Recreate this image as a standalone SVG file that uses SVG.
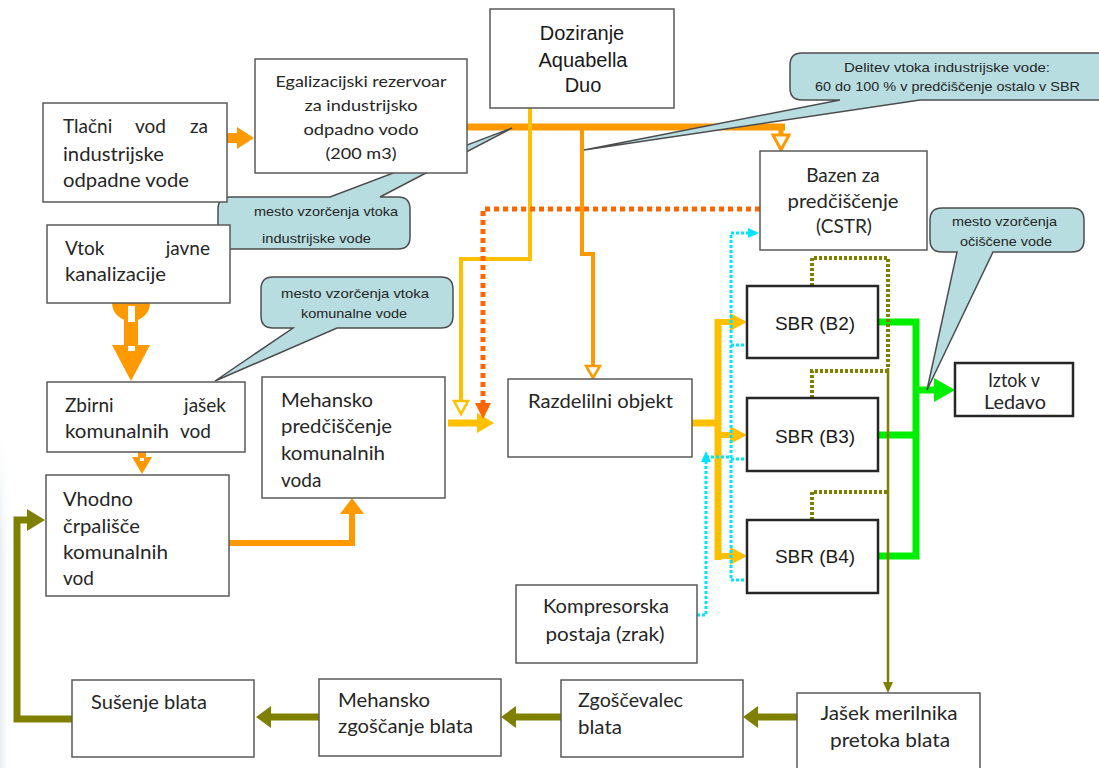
<svg xmlns="http://www.w3.org/2000/svg" width="1099" height="768" viewBox="0 0 1099 768">
<defs>
<linearGradient id="edge" x1="0" y1="0" x2="1" y2="0"><stop offset="0" stop-color="#e6ecf2"/><stop offset="1" stop-color="#ffffff" stop-opacity="0"/></linearGradient>
<linearGradient id="fade" x1="0" y1="0" x2="0" y2="1"><stop offset="0" stop-color="#fff"/><stop offset="0.35" stop-color="#fff" stop-opacity="0"/></linearGradient>
<style>
.box{fill:#fff;stroke:#595959;stroke-width:1.5}
.sbr{fill:#fff;stroke:#262626;stroke-width:2.5}
.t{font-family:Lato,"Liberation Sans",sans-serif;font-size:19px;fill:#262626}
.a{font-family:"Liberation Sans",Arial,sans-serif;font-size:19px;fill:#1a1a1a}
.c{font-family:"Liberation Sans Narrow","Liberation Sans",sans-serif;font-size:13px;fill:#262626}
.call{fill:#b7dde1;stroke:#4d4d4d;stroke-width:1.5}
.mid{text-anchor:middle}
</style>
</defs>
<rect width="1099" height="768" fill="#fff"/>
<rect x="0" y="440" width="12" height="328" fill="url(#edge)"/>
<rect x="0" y="440" width="12" height="328" fill="url(#fade)"/>

<g id="connectors">
<!-- industrial water main -->
<path d="M467,127 H785" stroke="#ff9900" stroke-width="7" fill="none"/>
<path d="M781,127 V136" stroke="#ff9900" stroke-width="5"/>
<path d="M773,135 H789 L781,150 Z" fill="#fff" stroke="#ff9900" stroke-width="3"/>
<path d="M582,127 V254 H593 V367" stroke="#ff9900" stroke-width="4" fill="none"/>
<path d="M586,366 H600 L593,378 Z" fill="#fff" stroke="#ff9900" stroke-width="2.5"/>
<!-- dosing -->
<path d="M530,108 V259 H461 V402" stroke="#ffc000" stroke-width="4" fill="none"/>
<path d="M454,401 H468 L461,414 Z" fill="#fff" stroke="#ffc000" stroke-width="2.5"/>
<path d="M448,423 H479" stroke="#ffc000" stroke-width="7"/>
<path d="M477,413 L494,423 L477,433 Z" fill="#ffc000"/>
<!-- CSTR return -->
<path d="M760,209 H483 V404" stroke="#ff6600" stroke-width="5" stroke-dasharray="5 4" fill="none"/>
<path d="M475,403 H491 L483,419 Z" fill="#ff6600"/>
<!-- distribution to SBR -->
<path d="M692,423 H718 M718,319 V560" stroke="#ffc000" stroke-width="7" fill="none"/>
<path d="M715,322 H732 M715,435 H732 M715,556 H732" stroke="#ffc000" stroke-width="6"/>
<path d="M730,313 L747,322 L730,331 Z M730,426 L747,435 L730,444 Z M730,547 L747,556 L730,565 Z" fill="#ffc000"/>
<!-- effluent -->
<path d="M878,322 H916 V556 H878 M878,435 H916 M916,390 H936" stroke="#00ee00" stroke-width="7" fill="none"/>
<path d="M934,378 L955,390 L934,402 Z" fill="#00ee00"/>
<!-- air -->
<path d="M749,233 H731 V580 H749 M731,345 H749 M731,459 H749 M697,615 H706 V462 M706,457 H731" stroke="#00e5ff" stroke-width="3" stroke-dasharray="3 2" fill="none"/>
<path d="M748,228 L759,233 L748,238 Z M748,340 L759,345 L748,350 Z M748,454 L759,459 L748,464 Z M748,575 L759,580 L748,585 Z M701,462 L706,451 L711,462 Z" fill="#00e5ff"/>
<!-- sludge -->
<path d="M812,286 V258 H888 V368 M812,398 V371 H888 M812,520 V492 H888" stroke="#808000" stroke-width="4" stroke-dasharray="3 2" fill="none"/>
<path d="M888,368 V684" stroke="#808000" stroke-width="2.5"/>
<path d="M883,682 H893 L888,693 Z" fill="#808000"/>
<path d="M797,717 H756 M561,717 H514 M319,717 H269 M72,719 H17 V520 H30" stroke="#808000" stroke-width="7" fill="none"/>
<path d="M758,706 L743,717 L758,728 Z M516,706 L501,717 L516,728 Z M271,706 L256,717 L271,728 Z M27,509 L45,520 L27,531 Z" fill="#808000"/>
<!-- municipal water -->
<path d="M229,543 H352 V513" stroke="#ff9900" stroke-width="6" fill="none"/>
<path d="M340,514 H364 L352,498 Z" fill="#ff9900"/>
<path d="M112,303 A19,18 0 0 0 150,303 Z" fill="#ff9900"/>
<rect x="124" y="310" width="14" height="37" fill="#ff9900"/>
<path d="M112,345 H150 L131,381 Z" fill="#ff9900"/>
<rect x="128" y="306" width="7" height="16" fill="#fff"/>
<rect x="128" y="346" width="7" height="5" fill="#fff"/>
<rect x="138" y="452" width="8" height="6" fill="#ff9900"/>
<path d="M132,457 H152 L142,474 Z" fill="#ff9900"/>
<rect x="140" y="458" width="4" height="3" fill="#fff"/>
<rect x="227" y="133" width="12" height="10" fill="#ff9900"/>
<path d="M237,127 L254,138 L237,149 Z" fill="#ff9900"/>
</g>

<g id="callout-industrial">
<path class="call" d="M230,197 H330 L512,128 L380,197 H398 Q410,197 410,209 V237 Q410,249 398,249 H230 Q218,249 218,237 V209 Q218,197 230,197 Z"/>
<text class="c" x="254" y="216" textLength="144" lengthAdjust="spacingAndGlyphs">mesto vzorčenja vtoka</text>
<text class="c" x="262" y="243" textLength="109" lengthAdjust="spacingAndGlyphs">industrijske vode</text>
</g>
<g id="callout-municipal">
<path class="call" d="M273,277 H441 Q453,277 453,289 V316 Q453,328 441,328 H337 L215,381 L293,328 H273 Q261,328 261,316 V289 Q261,277 273,277 Z"/>
<text class="c" x="281" y="298" textLength="148" lengthAdjust="spacingAndGlyphs">mesto vzorčenja  vtoka</text>
<text class="c" x="301" y="318" textLength="106" lengthAdjust="spacingAndGlyphs">komunalne vode</text>
</g>
<g id="callout-split">
<path class="call" d="M802,53 H1112 V100 H920 L584,150 L840,100 H802 Q790,100 790,88 V65 Q790,53 802,53 Z"/>
<text class="c" x="844" y="72" textLength="206" lengthAdjust="spacingAndGlyphs">Delitev  vtoka  industrijske vode:</text>
<text class="c" x="815" y="91" textLength="265" lengthAdjust="spacingAndGlyphs">60 do 100 % v predčiščenje ostalo v SBR</text>
</g>
<g id="callout-clean">
<path class="call" d="M942,208 H1072 Q1084,208 1084,220 V240 Q1084,252 1072,252 H993 L927,390 L957,252 H942 Q930,252 930,240 V220 Q930,208 942,208 Z"/>
<text class="c" x="952" y="226" textLength="105" lengthAdjust="spacingAndGlyphs">mesto vzorčenja</text>
<text class="c" x="960" y="246" textLength="92" lengthAdjust="spacingAndGlyphs">očiščene vode</text>
</g>

<g id="tlacni-vod">
<rect class="box" x="43" y="103" width="184" height="99"/>
<text class="t" x="63" y="133">Tlačni</text><text class="t" x="135" y="133">vod</text><text class="t" x="190" y="133">za</text>
<text class="t" x="63" y="161" textLength="101" lengthAdjust="spacingAndGlyphs">industrijske</text>
<text class="t" x="63" y="187" textLength="126" lengthAdjust="spacingAndGlyphs">odpadne vode</text>
</g>
<g id="egalizacijski">
<rect class="box" x="255" y="59" width="212" height="114"/>
<text class="t mid" x="361" y="87" style="font-size:16px" textLength="171" lengthAdjust="spacingAndGlyphs">Egalizacijski rezervoar</text>
<text class="t mid" x="361" y="111" style="font-size:16px" textLength="113" lengthAdjust="spacingAndGlyphs">za industrijsko</text>
<text class="t mid" x="361" y="135" style="font-size:16px" textLength="115" lengthAdjust="spacingAndGlyphs">odpadno vodo</text>
<text class="t mid" x="361" y="159" style="font-size:16px" textLength="71" lengthAdjust="spacingAndGlyphs">(200 m3)</text>
</g>
<g id="doziranje">
<rect class="box" x="490" y="9" width="184" height="99"/>
<text class="a mid" x="582" y="40" style="font-size:20px">Doziranje</text>
<text class="a mid" x="583" y="67" style="font-size:20px">Aquabella</text>
<text class="a mid" x="583" y="92" style="font-size:20px">Duo</text>
</g>
<g id="vtok-javne">
<rect class="box" x="47" y="225" width="183" height="78"/>
<text class="t" x="65" y="255">Vtok</text><text class="t" x="210" y="255" text-anchor="end">javne</text>
<text class="t" x="65" y="281" textLength="101" lengthAdjust="spacingAndGlyphs">kanalizacije</text>
</g>
<g id="zbirni-jasek">
<rect class="box" x="47" y="382" width="198" height="70"/>
<text class="t" x="65" y="412">Zbirni</text><text class="t" x="226" y="412" text-anchor="end">jašek</text>
<text class="t" x="65" y="438" textLength="104" lengthAdjust="spacingAndGlyphs">komunalnih</text><text class="t" x="180" y="438">vod</text>
</g>
<g id="mehansko-predciscenje">
<rect class="box" x="262" y="377" width="183" height="121"/>
<text class="t" x="281" y="407" textLength="92" lengthAdjust="spacingAndGlyphs">Mehansko</text>
<text class="t" x="281" y="433" textLength="111" lengthAdjust="spacingAndGlyphs">predčiščenje</text>
<text class="t" x="281" y="460" textLength="104" lengthAdjust="spacingAndGlyphs">komunalnih</text>
<text class="t" x="281" y="487">voda</text>
</g>
<g id="vhodno-crpalisce">
<rect class="box" x="46" y="475" width="183" height="121"/>
<text class="t" x="63" y="506" textLength="70" lengthAdjust="spacingAndGlyphs">Vhodno</text>
<text class="t" x="63" y="533" textLength="77" lengthAdjust="spacingAndGlyphs">črpališče</text>
<text class="t" x="63" y="559" textLength="105" lengthAdjust="spacingAndGlyphs">komunalnih</text>
<text class="t" x="63" y="585">vod</text>
</g>
<g id="razdelilni">
<rect class="box" x="508" y="379" width="184" height="78"/>
<text class="t" x="528" y="408" textLength="145" lengthAdjust="spacingAndGlyphs">Razdelilni objekt</text>
</g>
<g id="bazen">
<rect class="box" x="760" y="151" width="167" height="99"/>
<text class="t mid" x="843" y="182">Bazen za</text>
<text class="t mid" x="843" y="208" textLength="111" lengthAdjust="spacingAndGlyphs">predčiščenje</text>
<text class="t mid" x="844" y="233">(CSTR)</text>
</g>
<g id="sbr-b2">
<rect class="sbr" x="747" y="286" width="131" height="72"/>
<text class="a mid" x="815" y="330">SBR (B2)</text>
</g>
<g id="sbr-b3">
<rect class="sbr" x="747" y="398" width="131" height="73"/>
<text class="a mid" x="815" y="443">SBR (B3)</text>
</g>
<g id="sbr-b4">
<rect class="sbr" x="747" y="520" width="131" height="73"/>
<text class="a mid" x="815" y="563">SBR (B4)</text>
</g>
<g id="iztok">
<rect class="sbr" x="955" y="363" width="118" height="53"/>
<text class="t mid" x="1014" y="387" textLength="52" lengthAdjust="spacingAndGlyphs">Iztok v</text>
<text class="t mid" x="1015" y="409" textLength="62" lengthAdjust="spacingAndGlyphs">Ledavo</text>
</g>
<g id="kompresorska">
<rect class="box" x="516" y="585" width="181" height="78"/>
<text class="t mid" x="606" y="613" textLength="126" lengthAdjust="spacingAndGlyphs">Kompresorska</text>
<text class="t mid" x="605" y="641" textLength="119" lengthAdjust="spacingAndGlyphs">postaja (zrak)</text>
</g>
<g id="susenje">
<rect class="box" x="72" y="680" width="182" height="77"/>
<text class="t" x="91" y="709" textLength="116" lengthAdjust="spacingAndGlyphs">Sušenje blata</text>
</g>
<g id="mehansko-zgoscanje">
<rect class="box" x="319" y="679" width="182" height="77"/>
<text class="t" x="338" y="707" textLength="92" lengthAdjust="spacingAndGlyphs">Mehansko</text>
<text class="t" x="338" y="733" textLength="135" lengthAdjust="spacingAndGlyphs">zgoščanje blata</text>
</g>
<g id="zgoscevalec">
<rect class="box" x="561" y="680" width="182" height="77"/>
<text class="t" x="578" y="707" textLength="105" lengthAdjust="spacingAndGlyphs">Zgoščevalec</text>
<text class="t" x="578" y="734" textLength="44" lengthAdjust="spacingAndGlyphs">blata</text>
</g>
<g id="jasek-merilnika">
<rect class="box" x="797" y="693" width="183" height="80"/>
<text class="t mid" x="889" y="720" textLength="137" lengthAdjust="spacingAndGlyphs">Jašek merilnika</text>
<text class="t mid" x="890" y="747" textLength="120" lengthAdjust="spacingAndGlyphs">pretoka blata</text>
</g>
</svg>
